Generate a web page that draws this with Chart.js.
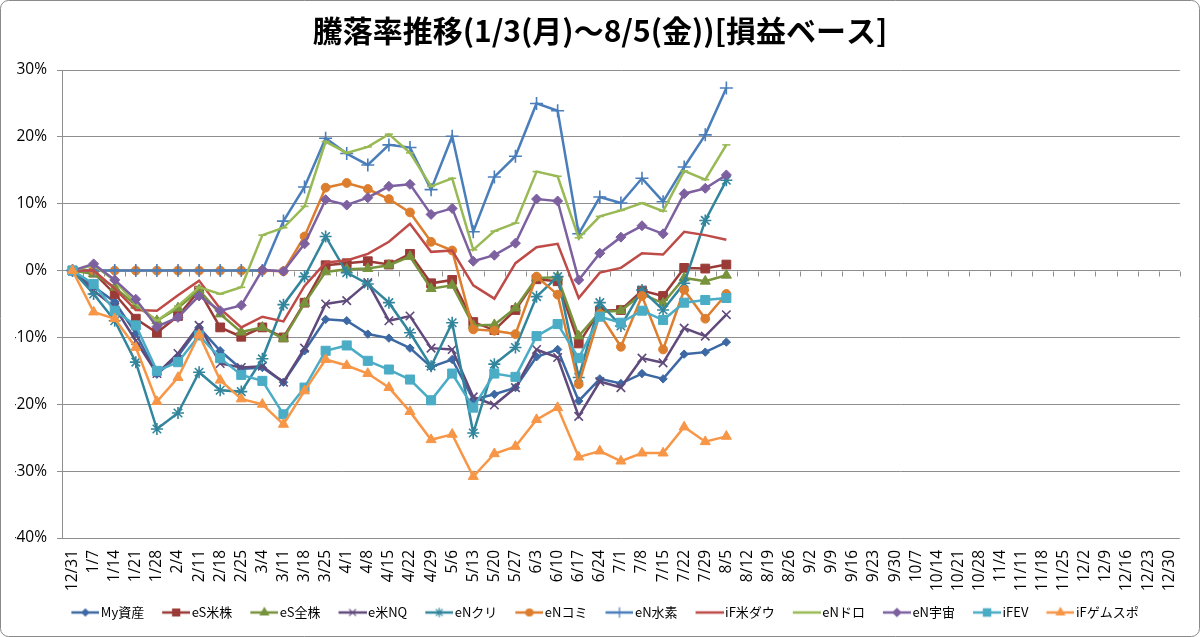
<!DOCTYPE html>
<html><head><meta charset="utf-8">
<script src="https://cdn.jsdelivr.net/npm/chart.js@4.4.1/dist/chart.umd.min.js"></script>
<style>html,body{margin:0;padding:0;background:#fff;overflow:hidden}#wrap{width:1200px;height:637px;position:relative}</style>
</head><body><div id="wrap"><canvas id="c" width="1200" height="637"></canvas></div>
<script>
// ---- data ----
const categories = ['12/31','1/7','1/14','1/21','1/28','2/4','2/11','2/18','2/25','3/4','3/11','3/18','3/25','4/1','4/8','4/15','4/22','4/29','5/6','5/13','5/20','5/27','6/3','6/10','6/17','6/24','7/1','7/8','7/15','7/22','7/29','8/5','8/12','8/19','8/26','9/2','9/9','9/16','9/23','9/30','10/7','10/14','10/21','10/28','11/4','11/11','11/18','11/25','12/2','12/9','12/16','12/23','12/30'];
const seriesNames = ['My資産','eS米株','eS全株','e米NQ','eNクリ','eNコミ','eN水素','iF米ダウ','eNドロ','eN宇宙','iFEV','iFゲムスポ'];
const myShisan = [0,-2.4,-4.7,-9.4,-15.5,-12.8,-8.5,-12.0,-14.7,-14.5,-16.7,-12.0,-7.3,-7.5,-9.5,-10.1,-11.6,-14.4,-13.3,-19.3,-18.5,-17.5,-12.9,-11.8,-19.5,-16.2,-16.9,-15.4,-16.2,-12.5,-12.2,-10.7];
const eSBeikabu = [0,-0.3,-3.5,-7.2,-9.3,-6.8,-3.0,-8.5,-9.9,-8.5,-10.0,-4.8,0.8,1.1,1.4,0.9,2.5,-1.9,-1.4,-7.7,-8.9,-5.9,-1.3,-1.6,-10.9,-6.0,-5.9,-3.0,-3.8,0.4,0.3,0.9];
const eSZenkabu = [0,-0.5,-2.5,-5.2,-7.5,-5.6,-2.9,-6.5,-9.2,-8.5,-10.2,-4.9,-0.2,0.2,0.3,0.8,2.1,-2.7,-2.2,-8.2,-8.1,-5.6,-1.1,-1.0,-9.8,-6.2,-6.0,-3.5,-4.9,-1.1,-1.6,-0.7];
const eBeiNQ = [0,-3.0,-5.5,-10.5,-15.4,-12.4,-8.2,-13.9,-14.5,-14.3,-16.7,-11.6,-5.0,-4.5,-1.8,-7.5,-6.8,-11.6,-11.8,-18.9,-20.1,-17.5,-11.8,-13.0,-21.8,-16.6,-17.5,-13.1,-13.8,-8.6,-9.8,-6.6];
const eNKuri = [0,-3.5,-7.5,-13.7,-23.7,-21.3,-15.2,-17.9,-18.1,-13.2,-5.1,-0.9,5.1,-0.3,-2.0,-4.8,-9.3,-14.3,-7.8,-24.3,-14.0,-11.5,-3.9,-0.9,-16.0,-4.8,-8.3,-2.9,-5.9,-1.9,7.5,13.5];
const eNKomi = [0,0,0,0,0,0,0,0,0,0,-0.1,5.1,12.4,13.1,12.2,10.7,8.7,4.3,3.0,-8.8,-9.0,-9.5,-0.9,-3.6,-17.0,-6.5,-11.4,-3.8,-11.8,-2.9,-7.2,-3.5];
const eNSuiso = [0,0,0,0,0,0,0,0,0,0,7.4,12.5,19.8,17.5,15.8,18.8,18.4,12.1,20.1,5.8,14.0,17.1,25.0,23.9,5.5,11.0,10.1,13.8,10.3,15.5,20.3,27.3];
const iFBeiDow = [0,0,-2.7,-5.9,-6.0,-3.7,-1.5,-5.7,-8.5,-6.9,-7.6,-2.3,1.2,1.5,2.5,4.3,7.0,2.8,3.0,-2.2,-4.2,1.1,3.5,4.0,-4.1,-0.3,0.4,2.6,2.4,5.8,5.3,4.6];
const eNDoro = [0,0.8,-1.5,-5.0,-7.5,-5.3,-2.5,-3.5,-2.5,5.3,6.4,9.6,19.3,17.6,18.5,20.4,17.6,12.6,13.8,3.1,5.9,7.1,14.8,14.1,4.9,8.1,9.0,10.1,8.9,14.9,13.6,18.8];
const eNUchu = [0,1.0,-1.4,-4.3,-8.4,-7.0,-3.8,-6.0,-5.2,0.1,-0.1,4.0,10.6,9.8,10.9,12.6,12.9,8.4,9.3,1.4,2.3,4.1,10.7,10.4,-1.4,2.6,5.0,6.7,5.5,11.5,12.3,14.3];
const iFEV = [0,-2.0,-6.0,-8.2,-15.0,-13.7,-9.7,-13.1,-15.6,-16.5,-21.5,-17.5,-12.0,-11.2,-13.5,-14.8,-16.3,-19.4,-15.4,-20.5,-15.4,-15.9,-9.8,-8.0,-13.1,-6.9,-7.8,-6.0,-7.4,-4.8,-4.4,-4.1];
const iFGameSpo = [0,-6.2,-7.2,-11.5,-19.6,-16.0,-9.6,-16.4,-19.2,-20.0,-23.0,-18.0,-13.3,-14.2,-15.4,-17.5,-21.1,-25.3,-24.5,-30.8,-27.4,-26.3,-22.3,-20.5,-27.9,-27.0,-28.5,-27.3,-27.3,-23.4,-25.6,-24.8];
const yTickValues = [-40,-30,-20,-10,0,10,20,30];
const titleText = '騰落率推移(1/3(月)～8/5(金))[損益ベース]';

// ---- styles ----
const seriesData = [myShisan,eSBeikabu,eSZenkabu,eBeiNQ,eNKuri,eNKomi,eNSuiso,iFBeiDow,eNDoro,eNUchu,iFEV,iFGameSpo];
const seriesColors = ['#3C68A3','#9A3B38','#77933C','#604A7B','#31859C','#DD7E2E','#4A7EBB','#BE4B48','#98B954','#7D60A0','#4BACC6','#F79646'];
const seriesMarkers = ['rectRot','rect','triangle','crossRot','star','circle','cross',false,'line','rectRot','rect','triangle'];
const seriesRadius = [4.2,6.2,5.8,6,6,4.4,6.5,0,4,5,6.4,5.8];
const gridColor = '#8E8E8E';

// legend icon: transparent left margin + 28px line sample with marker
const ICON_W = 43, ICON_LINE = 28, BOX_W = 33;
function makeIcon(color, style, r) {
  const c = document.createElement('canvas'); c.width = ICON_W; c.height = 14;
  const g = c.getContext('2d');
  const x0 = ICON_W - ICON_LINE, cx = x0 + ICON_LINE / 2;
  g.strokeStyle = color; g.lineWidth = 2.5; g.beginPath(); g.moveTo(x0, 7); g.lineTo(ICON_W, 7); g.stroke();
  if (style && style !== 'line' && r > 0) {
    g.fillStyle = color; g.strokeStyle = color; g.lineWidth = 1.2;
    Chart.helpers.drawPoint(g, {pointStyle: style, radius: r * 0.8, borderWidth: 1.2, rotation: 0}, cx, 7);
  }
  return c;
}
const legendIcons = seriesNames.map((n, i) => makeIcon(seriesColors[i], seriesMarkers[i], seriesRadius[i]));

const datasets = seriesNames.map((name, i) => {
  const lineOnly = ['cross','crossRot','star','line'].includes(seriesMarkers[i]);
  return {
    label: name,
    data: seriesData[i],
    borderColor: seriesColors[i],
    backgroundColor: seriesColors[i],
    borderWidth: 2.5,
    tension: 0,
    pointStyle: seriesMarkers[i] || 'circle',
    pointRadius: seriesMarkers[i] ? seriesRadius[i] : 0,
    pointHoverRadius: seriesMarkers[i] ? seriesRadius[i] : 0,
    pointBorderWidth: lineOnly ? 1.6 : 1,
    pointBorderColor: seriesColors[i],
    pointBackgroundColor: seriesColors[i],
    order: -i,
    clip: false
  };
});

const frame = {
  id: 'frame',
  beforeDraw(chart) {
    const ctx = chart.ctx;
    ctx.save();
    ctx.fillStyle = '#fff'; ctx.fillRect(0, 0, chart.width, chart.height);
    ctx.strokeStyle = '#8a8a8a'; ctx.lineWidth = 1;
    ctx.beginPath();
    if (ctx.roundRect) ctx.roundRect(0.5, 0.5, chart.width - 1, chart.height - 1, 8); else ctx.rect(0.5, 0.5, chart.width - 1, chart.height - 1);
    ctx.stroke();
    ctx.restore();
  }
};
const zeroTicks = {
  id: 'zeroTicks',
  beforeDatasetsDraw(chart) {
    const xs = chart.scales.x, ys = chart.scales.y, ctx = chart.ctx;
    const y0 = Math.round(ys.getPixelForValue(0)) + 0.5;
    const half = (xs.getPixelForValue(1) - xs.getPixelForValue(0)) / 2;
    ctx.save(); ctx.strokeStyle = gridColor; ctx.lineWidth = 1; ctx.beginPath();
    for (let i = 0; i <= categories.length; i++) {
      const px = Math.round(xs.getPixelForValue(i) - half) + 0.5;
      ctx.moveTo(px, y0); ctx.lineTo(px, y0 + 5);
    }
    ctx.stroke(); ctx.restore();
  }
};

new Chart(document.getElementById('c'), {
  type: 'line',
  data: { labels: categories, datasets },
  plugins: [frame, zeroTicks],
  options: {
    responsive: false,
    animation: false,
    events: [],
    layout: { padding: { left: 15, right: 15, top: 0, bottom: 8 } },
    plugins: {
      title: {
        display: true, text: titleText, color: '#000',
        font: { family: "'Noto Sans CJK JP', sans-serif", size: 30, weight: 'bold', lineHeight: 1.2 },
        padding: { top: 13, bottom: 21 }
      },
      legend: {
        position: 'bottom',
        labels: {
          usePointStyle: true, pointStyleWidth: BOX_W, padding: 8, color: '#000',
          font: { family: "'Noto Sans CJK JP', sans-serif", size: 13 },
          generateLabels(chart) {
            const items = Chart.defaults.plugins.legend.labels.generateLabels(chart);
            items.forEach(it => { it.pointStyle = legendIcons[it.datasetIndex]; it.lineWidth = 0; });
            return items;
          },
          sort: (a, b) => a.datasetIndex - b.datasetIndex
        }
      },
      tooltip: { enabled: false }
    },
    scales: {
      x: {
        offset: true,
        grid: { display: false, drawTicks: false, offset: true },
        border: { display: false },
        ticks: {
          autoSkip: false, maxRotation: 90, minRotation: 90, padding: 12, color: '#000',
          font: { family: "'Open Sans', sans-serif", size: 15.5 }
        },
        afterFit(s) { s.height = 60; }
      },
      y: {
        min: -40, max: 30,
        afterBuildTicks(s) { s.ticks = yTickValues.map(v => ({ value: v })); },
        grid: { color: gridColor, lineWidth: 1, tickLength: 5, drawTicks: true },
        border: { display: true, color: gridColor, width: 1 },
        ticks: {
          padding: 10, color: '#000',
          font: { family: "'Open Sans', sans-serif", size: 15.5 },
          callback: v => Math.round(v) + '%'
        },
        afterFit(s) { s.width = 47; }
      }
    }
  }
});
</script></body></html>
